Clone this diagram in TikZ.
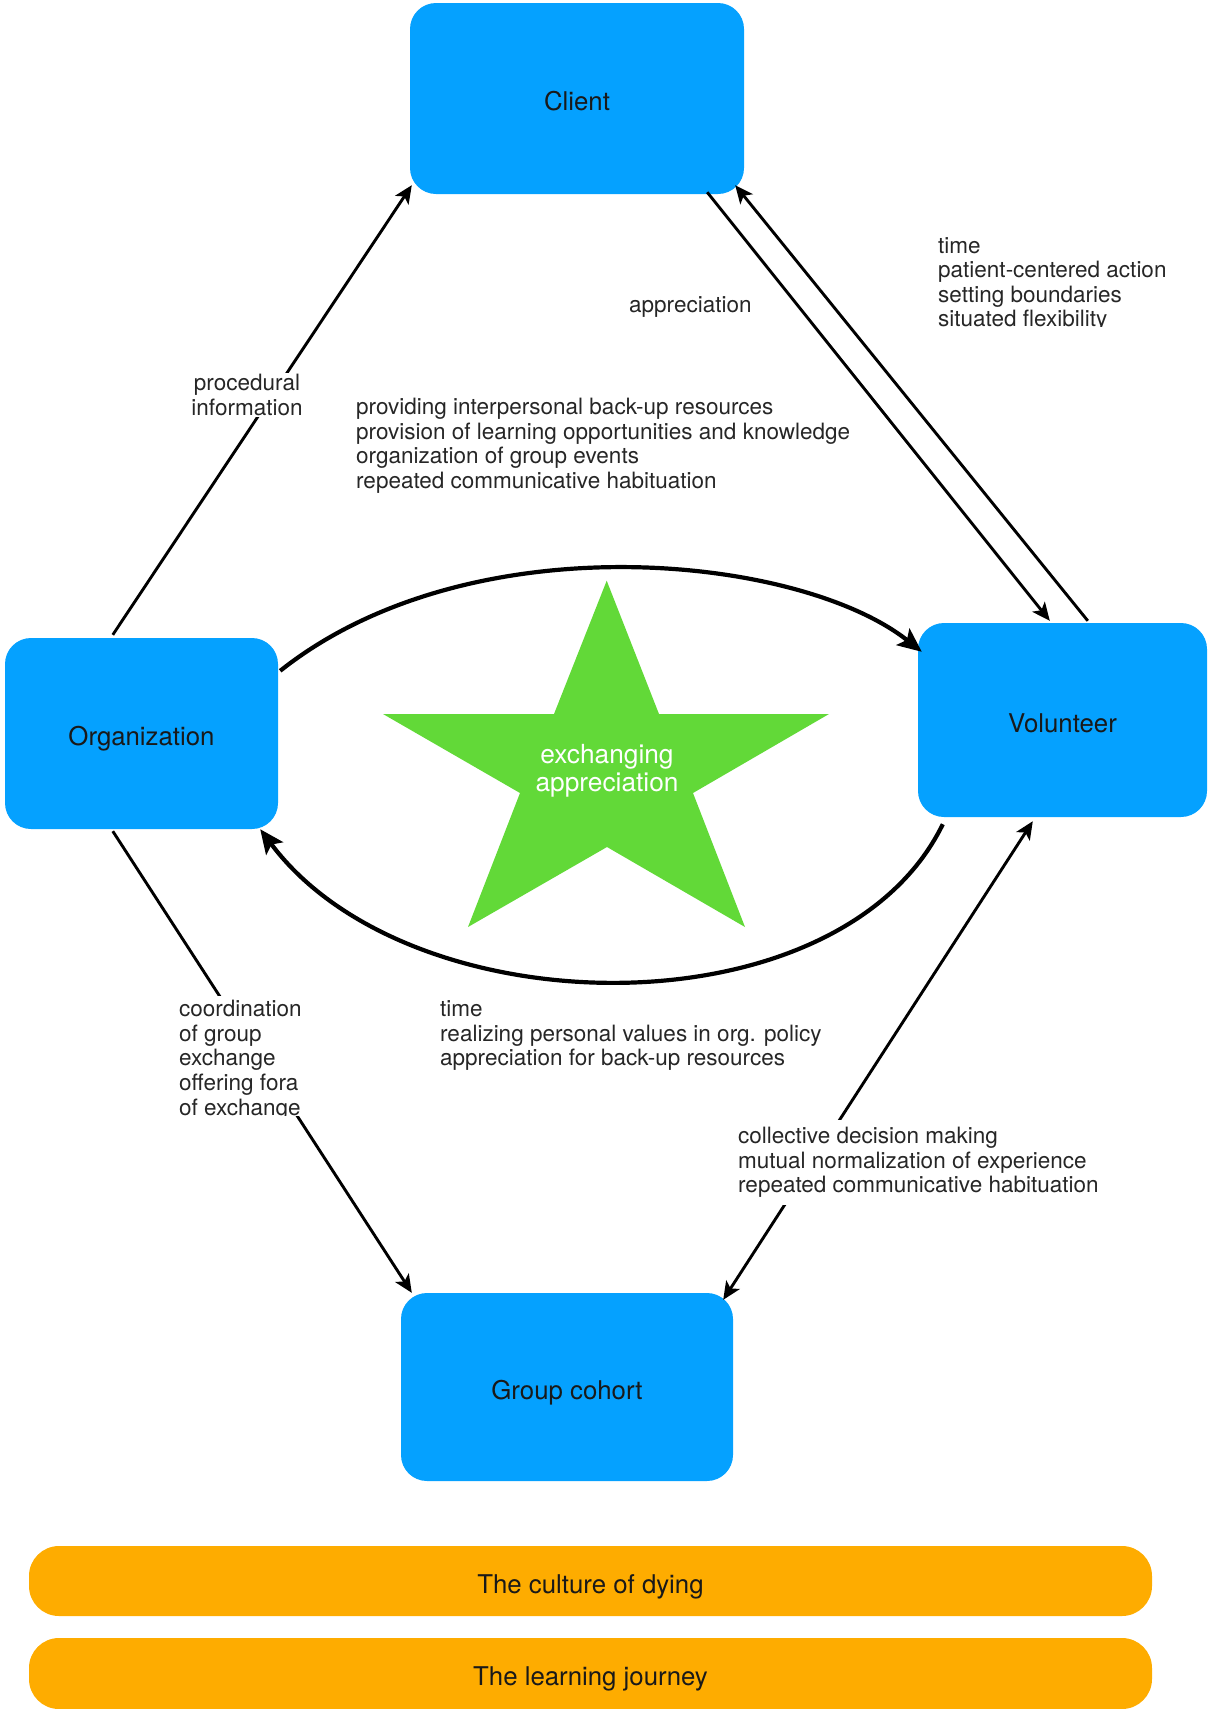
\documentclass[tikz,border=0pt]{standalone}
\usepackage{fontspec}
\setmainfont{TeX Gyre Heros}
\usetikzlibrary{arrows.meta,calc}
\definecolor{boxblue}{RGB}{5,161,255}
\definecolor{stargreen}{RGB}{98,217,56}
\definecolor{barorange}{RGB}{254,172,0}
\definecolor{lbltext}{RGB}{38,38,38}
\begin{document}
\begin{tikzpicture}[x=1pt,y=-1pt,
  box/.style={rectangle, rounded corners=26pt, fill=boxblue, inner sep=0pt,
    font=\fontsize{25.8}{30}\selectfont, text=black!90, text height=24pt, text depth=0pt},
  bar/.style={rectangle, rounded corners=30pt, fill=barorange, inner sep=0pt,
    minimum width=1123pt, font=\fontsize{25.8}{30}\selectfont, text=black!90, text height=24pt, text depth=0pt},
  lbl/.style={align=left, inner sep=1pt, font=\fontsize{22.5}{24.6}\selectfont, text=lbltext},
  conn/.style={line width=2.9pt, -{Stealth[length=18pt,width=16pt,inset=4.5pt]}},
  both/.style={line width=2.9pt, {Stealth[length=18pt,width=16pt,inset=4.5pt]}-{Stealth[length=18pt,width=16pt,inset=4.5pt]}},
  curvearrow/.style={line width=4.2pt, -{Stealth[length=24pt,width=21pt,inset=5pt]}}
]
\useasboundingbox (0,0) rectangle (1208,1709);

% boxes
\node[box, minimum width=334pt, minimum height=191pt] (client) at (577,98.5) {Client};
\node[box, minimum width=273pt, minimum height=191pt] (org) at (141.5,733.5) {Organization};
\node[box, minimum width=289pt, minimum height=194pt] (vol) at (1062.5,720) {Volunteer};
\node[box, minimum width=332pt, minimum height=188pt] (group) at (567,1387) {Group cohort};
\node[bar, minimum height=70pt] (culture) at (590.5,1581) {The culture of dying};
\node[bar, minimum height=71pt] (journey) at (590.5,1673.5) {The learning journey};

% star
\fill[stargreen] (606.7,580.7) -- (659,714) -- (829,714) -- (693,793) -- (745,927)
  -- (607,847) -- (468,927) -- (520,793) -- (383,714) -- (554,714) -- cycle;
\node[font=\fontsize{26.3}{28.3}\selectfont, text=white, align=center] (exch) at (607,771) {exchanging\\appreciation};

% connectors
\draw[conn] ($(org.north west)+(108,-3)$) -- ($(client.south west)+(2,-9)$);
\draw[conn] ($(org.south west)+(108,2)$) -- ($(group.north west)+(11,0)$);
\draw[conn] ($(client.south east)+(-37,-2)$) -- ($(vol.north west)+(132,-2)$);
\draw[conn] ($(vol.north west)+(170,-2)$) -- ($(client.south east)+(-9,-9)$);
\draw[both] ($(vol.south west)+(115,4)$) -- ($(group.north east)+(-10,7)$);
\draw[curvearrow] ($(org.north east)+(2,33)$) .. controls (470,520) and (800,555) .. ($(vol.north west)+(4,29)$);
\draw[curvearrow] ($(vol.south west)+(25,7)$) .. controls (840,1035) and (410,1030) .. ($(org.south east)+(-18,0)$);

% labels
\node[lbl, align=center, fill=white] (proc) at (247,395) {procedural\\information};
\node[lbl, anchor=west] (appr) at (628,307) {appreciation};
\node[lbl, anchor=north west] (prov) at (355,397) {providing interpersonal back-up resources\\provision of learning opportunities and knowledge\\organization of group events\\repeated communicative habituation};
\begin{scope}
  \clip (900,200) rectangle (1208,326.5);
  \node[lbl, anchor=north west] (timeone) at (937,236) {time\\patient-centered action\\setting boundaries\\situated flexibility};
\end{scope}
\begin{scope}
  \clip (150,980) rectangle (340,1115.5);
  \node[lbl, anchor=north west, fill=white, inner ysep=4pt] (coord) at (178,996) {coordination\\of group\\exchange\\offering fora\\of exchange};
\end{scope}
\node[lbl, anchor=north west] (timetwo) at (439,999.5) {time\\realizing personal values in org. policy\\appreciation for back-up resources};
\node[lbl, anchor=north west, fill=white, inner ysep=7pt] (coll) at (737,1120) {collective decision making\\mutual normalization of experience\\repeated communicative habituation};
\end{tikzpicture}
\end{document}
